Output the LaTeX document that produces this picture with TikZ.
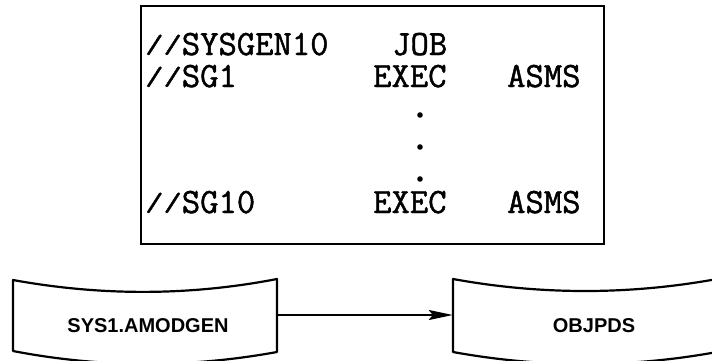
\documentclass[tikz,border=0pt]{standalone}
\usepackage{fontspec}
\newfontfamily\labelfont{Liberation Sans}
\newfontfamily\jclfont[FakeBold=1.3]{Latin Modern Mono}
\newcommand\jslash{\raisebox{2.2pt}{\scalebox{1}[0.733]{/}}}
\usetikzlibrary{arrows.meta}
\tikzset{
  frame/.style={draw, line width=2.4pt, minimum width=463, minimum height=238, inner sep=0},
  jcl/.style={anchor=base west, inner sep=0, text height=22pt, text depth=0pt, font=\jclfont\fontsize{35.6}{40}\selectfont},
  disk/.style={line width=2.2pt, line join=round},
  diskarea/.style={minimum width=264, minimum height=72, inner sep=0},
  disklabel/.style={anchor=base, inner sep=0, font=\labelfont\bfseries\fontsize{20}{24}\selectfont},
  flow/.style={line width=2.2pt, -{Stealth[length=24pt,width=10pt,inset=4pt]}},
  dotmark/.style={circle, fill, inner sep=0, minimum size=5.6}
}
\begin{document}
\begin{tikzpicture}[x=1pt,y=-1pt]
\clip (0,0) rectangle (712,360);
\fill[white] (0,0) rectangle (712,360);
% JCL box
\node[frame] (box) at (372.5,125) {};
\node[jcl] (t1) at (145,55) {\jslash\jslash SYSGEN10};
\node[jcl] (t2) at (392,55) {JOB};
\node[jcl] (t3) at (145,87) {\jslash\jslash SG1};
\node[jcl] (t4) at (373,87) {EXEC};
\node[jcl] (t5) at (507,87) {ASMS};
\node[dotmark] (d1) at (420,115) {};
\node[dotmark] (d2) at (420,147) {};
\node[dotmark] (d3) at (420,179) {};
\node[jcl] (t6) at (145,213) {\jslash\jslash SG10};
\node[jcl] (t7) at (373,213) {EXEC};
\node[jcl] (t8) at (507,213) {ASMS};
% disks
\node[diskarea] (amod) at (145,315) {};
\node[diskarea] (obj) at (585,315) {};
\draw[disk] (13,280) .. controls (101,296) and (189,296) .. (277,279)
  -- (277,352) .. controls (189,368) and (101,368) .. (13,351) -- cycle;
\draw[disk] (453,279) .. controls (541,295) and (629,295) .. (717,279)
  -- (717,352) .. controls (629,368) and (541,368) .. (453,352) -- cycle;
\node[disklabel] (l1) at (148,332) {SYS1.AMODGEN};
\node[disklabel] (l2) at (594,332) {OBJPDS};
\draw[flow] (amod.east) -- (obj.west);
\end{tikzpicture}
\end{document}
